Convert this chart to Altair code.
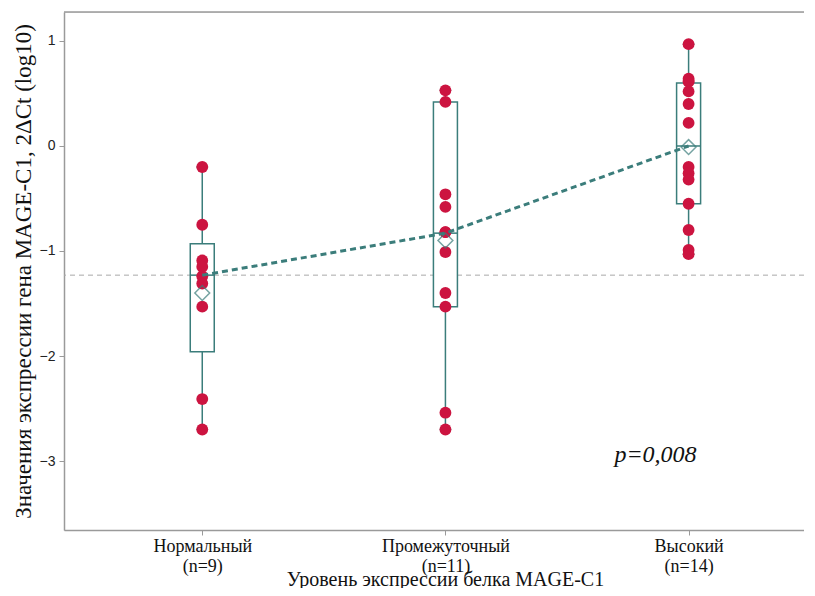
import altair as alt
import pandas as pd

# ---- data ----
groups = ["Нормальный", "Промежуточный", "Высокий"]
counts = ["(n=9)", "(n=11)", "(n=14)"]

normal_vals = [-0.20, -0.75, -1.09, -1.15, -1.24, -1.31, -1.53, -2.41, -2.70]
inter_vals = [0.53, 0.42, -0.46, -0.58, -0.82, -0.82, -1.01, -1.40, -1.53, -2.54, -2.70]
high_vals = [0.97, 0.64, 0.62, 0.61, 0.52, 0.40, 0.22, -0.20, -0.26, -0.32, -0.55, -0.80, -0.99, -1.03]

box_min = [-2.70, -2.70, -1.03]
box_q1 = [-1.96, -1.53, -0.55]
box_med = [-1.23, -0.83, 0.00]
box_q3 = [-0.93, 0.42, 0.60]
box_max = [-0.20, 0.53, 0.97]
box_mean = [-1.40, -0.90, -0.01]

ref_level = -1.23
p_text = "p=0,008"

# ---- tables ----
pts = pd.DataFrame(
    [{"pos": i, "v": v} for i, vals in enumerate([normal_vals, inter_vals, high_vals]) for v in vals]
)
stats = pd.DataFrame({
    "pos": [0, 1, 2], "mn": box_min, "q1": box_q1, "med": box_med,
    "q3": box_q3, "mx": box_max, "mean": box_mean,
})

W, H = 740, 518
TEAL = "#3b7d7b"
RED = "#cc1440"
GREY = "#9a9a9a"

xdom = [-0.548, -0.548 + W / 246.5]
ydom = [-3.657, 1.276]

label_expr = " : ".join(
    f"datum.value == {i} ? ['{g}', '{c}']" for i, (g, c) in enumerate(zip(groups, counts))
) + " : ''"

xs = alt.Scale(domain=xdom, nice=False, zero=False)
ys = alt.Scale(domain=ydom, nice=False, zero=False)

x_axis = alt.Axis(
    values=[0, 1, 2], labelExpr=label_expr, grid=False,
    labelFont="Liberation Serif", labelFontSize=18, labelColor="#111",
    labelLineHeight=20, labelPadding=2, tickSize=5, tickColor=GREY,
    domainColor=GREY, domainWidth=1.5,
    title="Уровень экспрессии белка MAGE-C1", titleFont="Liberation Serif",
    titleFontSize=20, titleFontWeight="normal", titleColor="#111",
    titleX=381, titleY=55, titleBaseline="alphabetic", titleAnchor="middle",
)
y_axis = alt.Axis(
    values=[-3, -2, -1, 0, 1], grid=False, format="d",
    labelFont="Liberation Sans", labelFontSize=14, labelColor="#222",
    tickSize=5, tickColor=GREY, domainColor=GREY, domainWidth=1.5,
    labelPadding=4,
    title="Значения экспрессии гена MAGE-C1, 2ΔCt (log10)",
    titleFont="Liberation Serif", titleFontSize=23, titleFontWeight="normal",
    titleColor="#111", titlePadding=4,
)

base_pts = alt.Chart(pts)
base_st = alt.Chart(stats)

# invisible layer to carry axes
axes = base_pts.mark_point(opacity=0).encode(
    x=alt.X("pos:Q", scale=xs, axis=x_axis),
    y=alt.Y("v:Q", scale=ys, axis=y_axis),
)

top_border = alt.Chart(pd.DataFrame({"a": [0]})).mark_rule(color=GREY, strokeWidth=1.5).encode(
    x=alt.value(0), x2=alt.value(W), y=alt.value(0)
)

ref_line = alt.Chart(pd.DataFrame({"r": [ref_level]})).mark_rule(
    color="#a8a8a8", strokeDash=[5, 4], strokeWidth=1
).encode(y=alt.Y("r:Q", scale=ys))

whisker = base_st.mark_rule(color=TEAL, strokeWidth=1.5).encode(
    x=alt.X("pos:Q", scale=xs), y=alt.Y("mn:Q", scale=ys), y2="mx:Q"
)
caps_lo = base_st.transform_calculate(a="datum.pos - 0.024", b="datum.pos + 0.024").mark_rule(
    color=TEAL, strokeWidth=1.5
).encode(x=alt.X("a:Q", scale=xs), x2="b:Q", y=alt.Y("mn:Q", scale=ys))
caps_hi = base_st.transform_calculate(a="datum.pos - 0.024", b="datum.pos + 0.024").mark_rule(
    color=TEAL, strokeWidth=1.5
).encode(x=alt.X("a:Q", scale=xs), x2="b:Q", y=alt.Y("mx:Q", scale=ys))

box = base_st.mark_bar(size=24, fill="white", stroke=TEAL, strokeWidth=1.5).encode(
    x=alt.X("pos:Q", scale=xs), y=alt.Y("q1:Q", scale=ys), y2="q3:Q"
)
med_tick = base_st.transform_calculate(a="datum.pos - 0.049", b="datum.pos + 0.049").mark_rule(
    color=TEAL, strokeWidth=1.5
).encode(x=alt.X("a:Q", scale=xs), x2="b:Q", y=alt.Y("med:Q", scale=ys))

points = base_pts.mark_circle(size=140, color=RED, opacity=1).encode(
    x=alt.X("pos:Q", scale=xs), y=alt.Y("v:Q", scale=ys)
)

med_line = base_st.mark_line(color=TEAL, strokeWidth=3, strokeDash=[6, 4]).encode(
    x=alt.X("pos:Q", scale=xs), y=alt.Y("med:Q", scale=ys)
)

mean_mark = base_st.mark_point(shape="diamond", size=220, filled=False, color=TEAL, strokeWidth=1.5).encode(
    x=alt.X("pos:Q", scale=xs), y=alt.Y("mean:Q", scale=ys)
)

ptxt = alt.Chart(pd.DataFrame({"x": [1.695], "y": [-2.94], "t": [p_text]})).mark_text(
    font="Liberation Serif", fontSize=24, fontStyle="italic", align="left", baseline="middle", color="#111"
).encode(x=alt.X("x:Q", scale=xs), y=alt.Y("y:Q", scale=ys), text="t:N")

chart = alt.layer(
    axes, top_border, ref_line, whisker, caps_lo, caps_hi, box, med_tick,
    points, med_line, mean_mark, ptxt
).properties(
    width=W, height=H,
    autosize=alt.AutoSizeParams(type="none"),
    padding={"left": 56, "top": 4, "right": 0, "bottom": 58},
).configure_view(stroke=None).configure(background="white")

chart.save("out.html", embed_options={"renderer": "svg", "actions": False})
